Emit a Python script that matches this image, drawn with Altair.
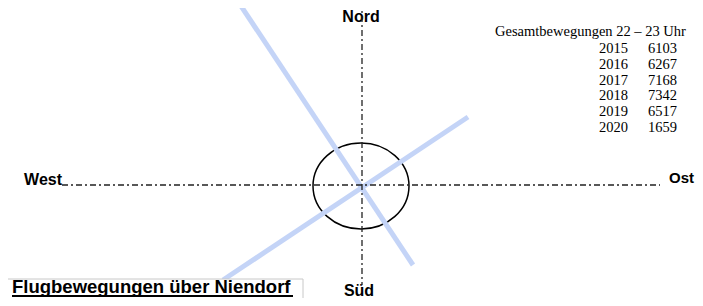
import altair as alt
import pandas as pd

# Compass frame: x = east, y = north, origin at the airport
runway_id = ["A", "A", "B", "B"]
runway_x = [-126, 50, 105, -140]
runway_y = [185, -80, 68, -95]

axis_id = ["EW", "EW", "NS", "NS"]
axis_x = [-301, 297, -1, -1]
axis_y = [0, 0, 183, -100]

compass_text = ["Nord", "Süd", "West", "Ost"]
compass_x = [-2, -4, -301, 331]
compass_y = [163, -111, 0, 2]
compass_align = ["center", "center", "right", "right"]
compass_size = [16, 16, 16, 15]

legend_title = "Gesamtbewegungen  22 \u2013 23 Uhr"
years = [2015, 2016, 2017, 2018, 2019, 2020]
movements = [6103, 6267, 7168, 7342, 6517, 1659]

box_title = "Flugbewegungen über Niendorf"

W, H = 687, 290
XS = alt.Scale(domain=[-355, 332], nice=False, zero=False, padding=0)
YS = alt.Scale(domain=[-113, 177], nice=False, zero=False, padding=0)

def X(f="x"):
    return alt.X(f"{f}:Q", scale=XS, axis=None)

def Y(f="y"):
    return alt.Y(f"{f}:Q", scale=YS, axis=None)

runways = pd.DataFrame({"id": runway_id, "x": runway_x, "y": runway_y, "o": [0, 1, 0, 1]})
axes = pd.DataFrame({"id": axis_id, "x": axis_x, "y": axis_y, "o": [0, 1, 0, 1]})
legend = pd.DataFrame({
    "year": [str(y) for y in years],
    "val": [str(v) for v in movements],
    "row": list(range(len(years))),
})
legend["y"] = 136 - 15.8 * legend["row"]
legend["xy"] = 265
legend["xv"] = 314

runway_layer = alt.Chart(runways).mark_line(
    color="#c4d4f7", strokeWidth=5, clip=False
).encode(x=X(), y=Y(), detail="id:N", order="o:Q")

ellipse = alt.Chart(pd.DataFrame({"x": [-2], "y": [-1]})).mark_point(
    shape="M -1 0 A 1 0.896 0 1 1 1 0 A 1 0.896 0 1 1 -1 0 Z",
    size=9216, filled=False, stroke="black", strokeWidth=1.5, opacity=1
).encode(x=X(), y=Y())

axis_layer = alt.Chart(axes).mark_line(
    color="#222222", strokeWidth=1.3, strokeDash=[6, 3, 2, 3], clip=False
).encode(x=X(), y=Y(), detail="id:N", order="o:Q")

label_layers = []
for t, x, y, a, s in zip(compass_text, compass_x, compass_y, compass_align, compass_size):
    label_layers.append(
        alt.Chart(pd.DataFrame({"t": [t], "x": [x], "y": [y]})).mark_text(
            font="Liberation Sans", fontWeight="bold", fontSize=s,
            align=a, baseline="alphabetic", color="black"
        ).encode(x=X(), y=Y(), text="t:N")
    )

legend_head = alt.Chart(pd.DataFrame({"t": [legend_title], "x": [132], "y": [153]})).mark_text(
    font="Liberation Serif", fontSize=14.5, align="left", baseline="middle", color="black"
).encode(x=X(), y=Y(), text="t:N")

legend_years = alt.Chart(legend).mark_text(
    font="Liberation Serif", fontSize=14.5, align="right", baseline="middle", color="black"
).encode(x=X("xy"), y=Y(), text="year:N")

legend_vals = alt.Chart(legend).mark_text(
    font="Liberation Serif", fontSize=14.5, align="right", baseline="middle", color="black"
).encode(x=X("xv"), y=Y(), text="val:N")

box = alt.Chart(pd.DataFrame({"x": [-361], "x2": [-60], "y": [-94], "y2": [-130]})).mark_rect(
    fill="white", stroke="#c8c8c8", strokeWidth=1, clip=False
).encode(x=X(), x2="x2:Q", y=Y(), y2="y2:Q")

box_text = alt.Chart(pd.DataFrame({"t": [box_title], "x": [-351], "y": [-108]})).mark_text(
    font="Liberation Sans", fontWeight="bold", fontSize=18.5, align="left",
    baseline="alphabetic", color="black"
).encode(x=X(), y=Y(), text="t:N")

underline = alt.Chart(pd.DataFrame({"x": [-351], "x2": [-70], "y": [-111]})).mark_rule(
    color="black", strokeWidth=2
).encode(x=X(), x2="x2:Q", y=Y())

chart = alt.layer(
    *label_layers, ellipse, runway_layer, axis_layer,
    legend_head, legend_years, legend_vals, box, box_text, underline
).properties(
    width=W, height=H, padding=0, autosize=alt.AutoSizeParams(type="none")
).configure_view(stroke=None).configure_scale(continuousPadding=0)

chart.save("out.html", embed_options={"renderer": "svg", "actions": False})
